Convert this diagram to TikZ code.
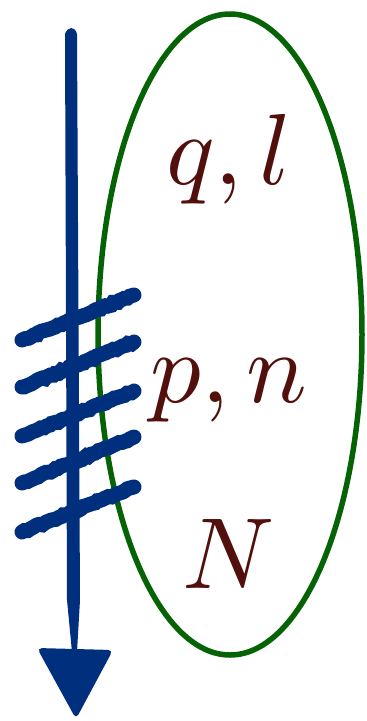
\documentclass[tikz,border=0pt]{standalone}
\usetikzlibrary{decorations.pathmorphing}
\definecolor{brushblue}{RGB}{0,48,125}
\definecolor{ovalgreen}{RGB}{5,98,5}
\definecolor{labelred}{RGB}{82,16,12}
\tikzset{
  hatch/.style={brushblue,line width=15pt,line cap=round,decorate,decoration={random steps,segment length=3pt,amplitude=1pt}},
  lab/.style={text=labelred,anchor=base,inner sep=0pt,scale=10.1,transform shape}
}
\begin{document}
\begin{tikzpicture}[x=1pt,y=-1pt]
\useasboundingbox (0,0) rectangle (367,721);
% oval
\draw[ovalgreen,line width=5.5pt] (230,334.5) ellipse [x radius=132, y radius=320.5];
% arrow shaft
\fill[brushblue] (65,34) .. controls (68,26) and (75,26) .. (77,34) -- (80,600) -- (77,652) -- (72,652) -- (67,600) -- cycle;
% arrow head
\fill[brushblue,rounded corners=5pt] (37,648) -- (113,650) -- (76,719) -- cycle;
% hatches
\foreach \a/\b in {340/295,387/342,436/391,483/437,532/487}{
  \draw[hatch] (22,\a) -- (134,\b);
}
% labels
\node[lab] (ql) at (229,184) {$q,l$};
\node[lab] (pn) at (229,402) {$p,n$};
\node[lab] (N) at (229,588) {$N$};
\end{tikzpicture}
\end{document}
